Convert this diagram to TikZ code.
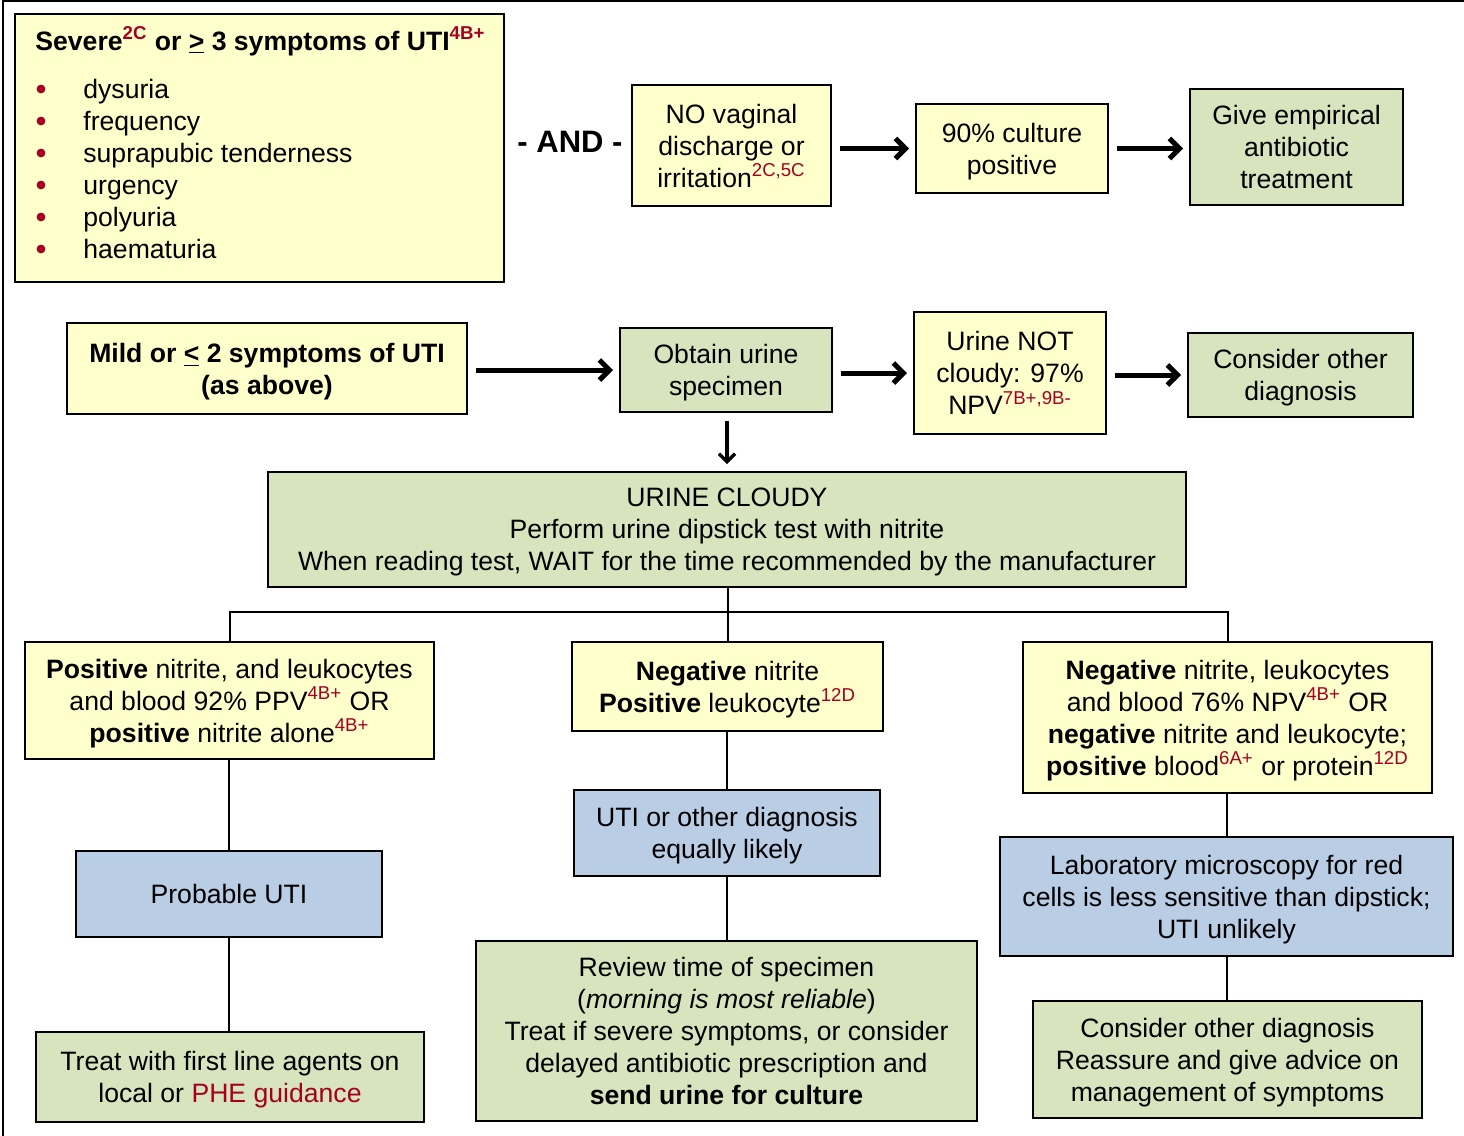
\documentclass[tikz,border=0pt]{standalone}
\usepackage{fontspec}
\setmainfont{Liberation Sans}
\usepackage{tikz}
\usetikzlibrary{calc, arrows.meta, positioning}

\definecolor{boxyellow}{HTML}{FFFFCC}
\definecolor{boxgreen}{HTML}{D7E4BD}
\definecolor{boxblue}{HTML}{B9CDE5}
\definecolor{evred}{HTML}{A50021}
\newcommand{\ev}[1]{\textsuperscript{\color{evred}#1}}

\tikzset{
  box/.style={draw=black, line width=1pt, inner sep=0pt, align=center, text depth=0pt},
  ybox/.style={box, fill=boxyellow},
  gbox/.style={box, fill=boxgreen},
  bbox/.style={box, fill=boxblue},
  link/.style={line width=1pt},
  fatarrow/.style={line width=2.5pt, -{Straight Barb[length=5pt,width=10pt]}, shorten <=4pt, shorten >=3pt},
  downarrow/.style={line width=1.6pt, -{Straight Barb[length=4pt,width=8pt]}, shorten <=4pt, shorten >=3.5pt}
}

\begin{document}
\begin{tikzpicture}[x=0.5pt, y=-0.5pt, every node/.style={font=\fontsize{13.3}{16}\selectfont}]
        \useasboundingbox (0,0) rectangle (1464,1136);
        \draw[line width=1.25pt] (3,1136) -- (3,1) -- (1464,1);

        % severe symptoms
        \node[ybox, minimum width=244.5pt, minimum height=134pt] (severe) at (259.5,148) {};
        \node[anchor=base west, inner sep=0pt] (sevtitle) at (35,50) {\bfseries Severe\ev{2C} or \underline{>} 3 symptoms of UTI\ev{4B+}};
        \foreach \sym [count=\i] in {dysuria, frequency, suprapubic tenderness, urgency, polyuria, haematuria} {
          \fill[evred] (41,57+32*\i) circle (2.2pt);
          \node[anchor=base west, inner sep=0pt] (sym\i) at (83,66+32*\i) {\sym};
        }

        \node[font=\fontsize{15.5}{18}\selectfont\bfseries] (and) at (570,142) {- AND -};

        \node[ybox, minimum width=99.5pt, minimum height=60.5pt] (novag) at (731.5,145.5) {NO vaginal\\discharge or\\irritation\ev{2C,5C}};
        \node[ybox, minimum width=96pt, minimum height=44.5pt] (cult) at (1012,148.5) {90\% culture\\positive};
        \node[gbox, minimum width=106.5pt, minimum height=58pt] (empir) at (1296.5,147) {Give empirical\\antibiotic\\treatment};

        \draw[fatarrow] (novag.east |- cult) -- (cult.west);
        \draw[fatarrow] (cult.east) -- (empir.west |- cult);

        % mild symptoms
        \node[ybox, minimum width=200pt, minimum height=45.5pt, font=\fontsize{13.3}{16}\selectfont\bfseries] (mild) at (267,368.5) {Mild or \underline{<} 2 symptoms of UTI\\(as above)};
        \node[gbox, minimum width=106pt, minimum height=42pt] (obtain) at (726,370) {Obtain urine\\specimen};
        \node[ybox, minimum width=96pt, minimum height=61pt] (notcl) at (1010,373) {Urine NOT\\cloudy: 97\%\\NPV\ev{7B+,9B-}};
        \node[gbox, minimum width=112.5pt, minimum height=42pt] (other) at (1300.5,375) {Consider other\\diagnosis};

        \draw[fatarrow] (mild.east |- obtain) -- (obtain.west);
        \draw[fatarrow] (obtain.east |- notcl) -- (notcl.west);
        \draw[fatarrow] (notcl.east |- other) -- (other.west);

        \node[gbox, minimum width=459pt, minimum height=57.5pt] (cloudy) at (727,529.5) {URINE CLOUDY\\Perform urine dipstick test with nitrite\\When reading test, WAIT for the time recommended by the manufacturer};
        \draw[downarrow] (obtain.south -| cloudy) -- (cloudy.north);

        % dipstick results
        \node[ybox, minimum width=204.5pt, minimum height=58.5pt] (pos) at (229.5,700.5) {\textbf{Positive} nitrite, and leukocytes\\and blood 92\% PPV\ev{4B+} OR\\\textbf{positive} nitrite alone\ev{4B+}};
        \node[ybox, minimum width=155.5pt, minimum height=44.5pt] (negleu) at (727.5,686.5) {\textbf{Negative} nitrite\\\textbf{Positive} leukocyte\ev{12D}};
        \node[ybox, minimum width=204.5pt, minimum height=75.5pt] (negall) at (1227.5,717.5) {\textbf{Negative} nitrite, leukocytes\\and blood 76\% NPV\ev{4B+} OR\\\textbf{negative} nitrite and leukocyte;\\\textbf{positive} blood\ev{6A+} or protein\ev{12D}};

        \coordinate (fork) at (727,612);
        \draw[link] (cloudy.south -| negleu) -- (negleu.north);
        \draw[link] (pos.north) |- (fork) -| (negall.north);

        \node[bbox, minimum width=153pt, minimum height=43pt] (probable) at (229,894) {Probable UTI};
        \node[bbox, minimum width=153pt, minimum height=43pt] (equal) at (727,833) {UTI or other diagnosis\\equally likely};
        \node[bbox, minimum width=226.5pt, minimum height=59.5pt] (micro) at (1226.5,896.5) {Laboratory microscopy for red\\cells is less sensitive than dipstick;\\UTI unlikely};

        \node[gbox, minimum width=194pt, minimum height=45pt] (treat) at (230,1077) {Treat with first line agents on\\local or {\color{evred}PHE guidance}};
        \node[gbox, minimum width=250.5pt, minimum height=90pt] (review) at (726.5,1031) {Review time of specimen\\(\textit{morning is most reliable})\\Treat if severe symptoms, or consider\\delayed antibiotic prescription and\\\textbf{send urine for culture}};
        \node[gbox, minimum width=194.5pt, minimum height=58.5pt] (reass) at (1227.5,1059.5) {Consider other diagnosis\\Reassure and give advice on\\management of symptoms};

        \draw[link] (pos.south -| probable) -- (probable.north);
        \draw[link] (probable.south) -- (probable.south |- treat.north);
        \draw[link] (negleu.south -| equal) -- (equal.north);
        \draw[link] (equal.south) -- (equal.south |- review.north);
        \draw[link] (negall.south -| micro) -- (micro.north);
        \draw[link] (micro.south) -- (micro.south |- reass.north);
\end{tikzpicture}
\end{document}
